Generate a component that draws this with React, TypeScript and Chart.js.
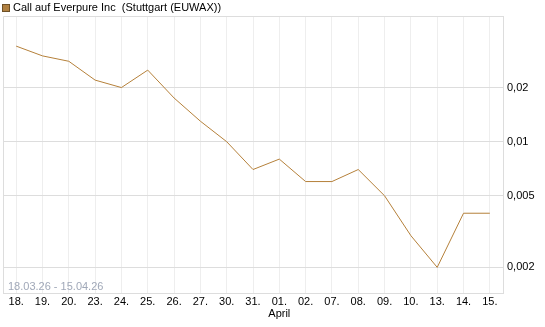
import React, { useEffect, useRef } from "react";
import { Chart, registerables } from "chart.js";

Chart.register(...registerables);

const categories = ["18.", "19.", "20.", "23.", "24.", "25.", "26.", "27.", "30.", "31.", "01.", "02.", "07.", "08.", "09.", "10.", "13.", "14.", "15."];
const monthLabels = ["", "", "", "", "", "", "", "", "", "", "April", "", "", "", "", "", "", "", ""];
const values = [0.034, 0.030, 0.028, 0.022, 0.020, 0.025, 0.0175, 0.013, 0.010, 0.007, 0.008, 0.006, 0.006, 0.007, 0.005, 0.003, 0.002, 0.004, 0.004];
const yTicks = [0.002, 0.005, 0.01, 0.02];
const seriesName = "Call auf Everpure Inc  (Stuttgart (EUWAX))";
const rangeText = "18.03.26 - 15.04.26";

const FONT = "'Liberation Sans', Arial, sans-serif";

export default function App() {
  const ref = useRef<HTMLCanvasElement | null>(null);
  useEffect(() => {
    if (!ref.current) return;
    const labels = categories.map((c, i) => (monthLabels[i] ? [c, monthLabels[i]] : c));
    const overlay = {
      id: "overlay",
      afterDraw(chart: any) {
        const ctx = chart.ctx;
        const a = chart.chartArea;
        ctx.save();
        ctx.strokeStyle = "#dddddd";
        ctx.lineWidth = 1;
        ctx.beginPath();
        ctx.moveTo(a.left + 0.5, a.bottom);
        ctx.lineTo(a.left + 0.5, a.top + 0.5);
        ctx.lineTo(a.right, a.top + 0.5);
        ctx.stroke();
        // legend
        ctx.fillStyle = "#b08040";
        ctx.fillRect(2, 4, 7, 7);
        ctx.strokeStyle = "#6e5128";
        ctx.strokeRect(2.5, 4.5, 7, 7);
        ctx.fillStyle = "#000000";
        ctx.font = `11px ${FONT}`;
        ctx.textBaseline = "middle";
        ctx.textAlign = "left";
        ctx.fillText(seriesName, 13, 8);
        // date range
        ctx.fillStyle = "#a0a8b8";
        ctx.font = `11px ${FONT}`;
        ctx.fillText(rangeText, 8, 287);
        ctx.restore();
      },
    };
    const chart = new Chart(ref.current, {
      type: "line",
      data: {
        labels,
        datasets: [
          {
            label: seriesName,
            data: values,
            borderColor: "#b5803a",
            backgroundColor: "#b5803a",
            borderWidth: 1,
            pointRadius: 0,
            tension: 0,
            fill: false,
          },
        ],
      },
      options: {
        responsive: false,
        animation: false,
        layout: { padding: { top: 16, left: 3, right: 0, bottom: 0 } },
        plugins: { legend: { display: false }, tooltip: { enabled: false } },
        scales: {
          x: {
            type: "category",
            offset: true,
            grid: { color: "#eeeeee", drawTicks: false, offset: false },
            border: { color: "#dddddd" },
            ticks: {
              autoSkip: false,
              maxRotation: 0,
              padding: 3,
              color: "#000000",
              font: { family: FONT, size: 11, lineHeight: 1.1 },
            },
            afterFit(scale: any) {
              scale.height = 34;
            },
          },
          y: {
            type: "logarithmic",
            position: "right",
            min: 0.00144,
            max: 0.05,
            grid: { color: "#dddddd", drawTicks: false },
            border: { color: "#dddddd" },
            afterBuildTicks(scale: any) {
              scale.ticks = yTicks.map((v) => ({ value: v }));
            },
            ticks: {
              padding: 4,
              color: "#000000",
              font: { family: FONT, size: 11 },
              callback: (v: any) => String(v).replace(".", ","),
            },
            afterFit(scale: any) {
              scale.width = 42;
            },
          },
        },
      },
      plugins: [overlay],
    } as any);
    return () => chart.destroy();
  }, []);
  return (
    <div style={{ position: "fixed", left: 0, top: 0, width: 545, height: 327 }}>
      <canvas ref={ref} width={545} height={327} style={{ width: 545, height: 327 }} />
    </div>
  );
}
